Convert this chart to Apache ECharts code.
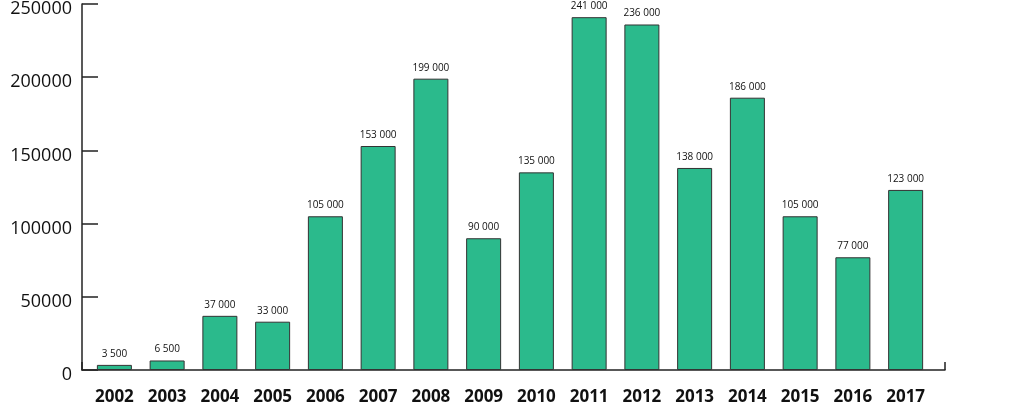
<!DOCTYPE html>
<html><head><meta charset="utf-8">
<script src="https://cdn.jsdelivr.net/npm/echarts@6/dist/echarts.min.js"></script>
<style>html,body{margin:0;padding:0;background:#fff}#c{width:1024px;height:408px}</style>
</head><body><div id="c"></div>
<script>
const years = ['2002','2003','2004','2005','2006','2007','2008','2009','2010','2011','2012','2013','2014','2015','2016','2017'];
const values = [3500,6500,37000,33000,105000,153000,199000,90000,135000,241000,236000,138000,186000,105000,77000,123000];
const yTicks = [0,50000,100000,150000,200000,250000];

const chart = echarts.init(document.getElementById('c'));
const fmt = v => String(v).replace(/\B(?=(\d{3})+(?!\d))/g, ' ');
chart.setOption({
  animation:false,
  grid:[
    {left:88, right:92, top:4, bottom:38},
    {left:82, right:79, top:4, bottom:38}
  ],
  xAxis:[
    {type:'category', data:years, gridIndex:0,
     axisLine:{show:false}, axisTick:{show:false},
     axisLabel:{fontFamily:'Open Sans', fontWeight:'bold', fontSize:17, color:'#111', margin:19}},
    {type:'value', gridIndex:1, min:0, max:1, interval:1,
     axisLine:{show:true, lineStyle:{color:'#222', width:1.5}},
     axisTick:{show:true, inside:true, length:8, lineStyle:{color:'#222', width:1.5}},
     axisLabel:{show:false}, splitLine:{show:false}}
  ],
  yAxis:[
    {type:'value', gridIndex:0, min:yTicks[0], max:yTicks[yTicks.length-1], interval:yTicks[1]-yTicks[0],
     offset:6,
     axisLine:{show:true, lineStyle:{color:'#222', width:1.5}},
     axisTick:{show:true, inside:true, length:16, lineStyle:{color:'#222', width:1.5}},
     splitLine:{show:false},
     axisLabel:{fontFamily:'Open Sans', fontSize:18, color:'#111', margin:10,
                verticalAlign:'top', lineHeight:10,
                formatter:v=>String(v)}},
    {type:'value', gridIndex:1, min:0, max:1, show:false}
  ],
  series:[{
    type:'bar', data:values, xAxisIndex:0, yAxisIndex:0, barWidth:35,
    itemStyle:{color:'#2bba8c', borderColor:'#333', borderWidth:1},
    label:{show:true, position:'top', distance:6, fontFamily:'Open Sans', fontSize:10, color:'#111',
           formatter:p=>fmt(p.value)}
  }]
});
</script></body></html>
